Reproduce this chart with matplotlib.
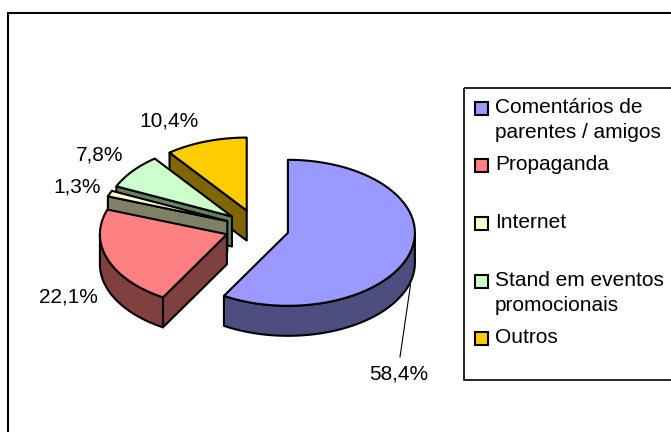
import numpy as np
import matplotlib.pyplot as plt
from matplotlib.patches import Polygon, Rectangle
from matplotlib.colors import to_rgb

plt.rcParams['font.family'] = ['Liberation Sans', 'DejaVu Sans']

labels = ['Comentários de\nparentes / amigos', 'Propaganda', 'Internet',
          'Stand em eventos\npromocionais', 'Outros']
values = [58.4, 22.1, 1.3, 7.8, 10.4]
colors = ['#9999FF', '#FF8080', '#FFFFCC', '#CCFFCC', '#FFCC00']
pct_text = ['58,4%', '22,1%', '1,3%', '7,8%', '10,4%']

# layout (pixels)
cx, cy = 257, 228
rx, ry = 127, 73
depth = 30
explode = 0.252
label_pos = [(399, 374), (68, 297), (77, 187), (100, 155), (169, 121)]
legend_base = [113, 170, 228, 286, 343]

fig = plt.figure(figsize=(6.71, 4.32), dpi=100)
ax = fig.add_axes([0, 0, 1, 1])
ax.set_xlim(0, 671)
ax.set_ylim(432, 0)
ax.axis('off')

def rim(x0, y0, th, dz=0):
    th = np.radians(th)
    return x0 + rx * np.cos(th), y0 - ry * np.sin(th) + dz

def darker(c):
    return tuple(v * 0.5 for v in to_rgb(c))

# slice angles: clockwise from 12 o'clock
angles = []
end = 90.0
for v in values:
    span = v / 100 * 360
    angles.append((end - span, end))
    end -= span

slices = []
for i, (a, b) in enumerate(angles):
    m = np.radians((a + b) / 2)
    x0 = cx + explode * rx * np.cos(m)
    y0 = cy - explode * ry * np.sin(m)
    slices.append((np.sin(m), i, a, b, x0, y0))

lw = 1.5
for s, i, a, b, x0, y0 in sorted(slices, reverse=True):
    face = colors[i]
    side = darker(face)
    # radial walls
    for th, vis in [(a, np.cos(np.radians(a)) > 0), (b, np.cos(np.radians(b)) < 0)]:
        if vis:
            px, py = rim(x0, y0, th)
            poly = [(x0, y0), (px, py), (px, py + depth), (x0, y0 + depth)]
            ax.add_patch(Polygon(poly, closed=True, facecolor=side,
                                 edgecolor='black', lw=lw, joinstyle='round'))
    # curved outer wall (front half)
    a2, b2 = a % 360, a % 360 + (b - a)
    for lo, hi in [(180, 360), (540, 720)]:
        s0, s1 = max(a2, lo), min(b2, hi)
        if s1 > s0:
            t = np.linspace(s0, s1, 80)
            top = [rim(x0, y0, th) for th in t]
            bot = [rim(x0, y0, th, depth) for th in t[::-1]]
            ax.add_patch(Polygon(top + bot, closed=True, facecolor=side,
                                 edgecolor='black', lw=lw, joinstyle='round'))
    # top face
    t = np.linspace(a, b, 120)
    poly = [(x0, y0)] + [rim(x0, y0, th) for th in t]
    ax.add_patch(Polygon(poly, closed=True, facecolor=face,
                         edgecolor='black', lw=lw, joinstyle='round'))

# percentage labels
for i, txt in enumerate(pct_text):
    ax.text(label_pos[i][0], label_pos[i][1], txt, fontsize=15,
            ha='center', va='center')

# leader line for the big slice
_, _, a, b, x0, y0 = [s for s in slices if s[1] == 0][0]
lx, ly = rim(x0, y0, (a + b) / 2, depth)
ax.plot([label_pos[0][0] + 1, lx], [label_pos[0][1] - 17, ly + 3],
        color='black', lw=0.8)

# legend
ax.add_patch(Rectangle((464, 88), 300, 292, facecolor='none',
                       edgecolor='black', lw=1.2))
for i, lab in enumerate(labels):
    yb = legend_base[i]
    ax.add_patch(Rectangle((475, yb - 11), 13, 13, facecolor=colors[i],
                           edgecolor='black', lw=1.5))
    for k, line in enumerate(lab.split('\n')):
        ax.text(495, yb + 25 * k, line, fontsize=15, ha='left', va='baseline')

# outer chart frame
ax.plot([8, 8, 700], [440, 13, 13], color='black', lw=1.5,
        solid_joinstyle='miter')

fig.savefig('out.png', dpi=100)
